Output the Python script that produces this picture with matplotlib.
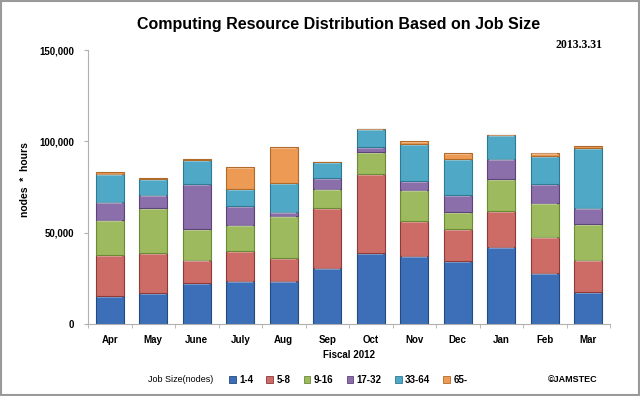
import matplotlib
matplotlib.use("Agg")
import matplotlib.pyplot as plt
import numpy as np
from matplotlib.patches import Patch, Rectangle

months = ["Apr", "May", "June", "July", "Aug", "Sep", "Oct", "Nov", "Dec", "Jan", "Feb", "Mar"]
series_names = ["1-4", "5-8", "9-16", "17-32", "33-64", "65-"]
s_1_4   = [15100, 17000, 22400, 23700, 23700, 30800, 38700, 37400, 34300, 42300, 28100, 17300]
s_5_8   = [22800, 21700, 12800, 16300, 12400, 32700, 43200, 18800, 17500, 19400, 19700, 17900]
s_9_16  = [19200, 24600, 16800, 14400, 23200, 10600, 12300, 17300,  9300, 17700, 18600, 19300]
s_17_32 = [ 9900,  7500, 24700, 10000,  2200,  5600,  2500,  4600,  9300, 11100, 10300,  9200]
s_33_64 = [15300,  8600, 12900,  9300, 15700,  8800, 10300, 20500, 19700, 13200, 15100, 32500]
s_65    = [ 1100,   400,   700, 12300, 19700,   400,     0,  1600,  3500,     0,  2000,  1100]

series = [s_1_4, s_5_8, s_9_16, s_17_32, s_33_64, s_65]
colors = ["#3c6fb8", "#cd6b67", "#9dba5f", "#8a6fab", "#4fa9c6", "#ec9a54"]
edges = ["#244a80", "#8c3b38", "#6a8a35", "#5c4478", "#2e7a93", "#b06a2a"]

plt.rcParams['font.family'] = ['Liberation Sans', 'DejaVu Sans']

fig = plt.figure(figsize=(6.4, 3.96), dpi=100)
ax = fig.add_axes([88/640, 1 - 324/396, (610 - 88)/640, (324 - 50)/396])

x = np.arange(len(months))
bottom = np.zeros(len(months))
for vals, c, ec in zip(series, colors, edges):
    v = np.array(vals, dtype=float)
    ax.bar(x, v, width=0.64, bottom=bottom, color=c, edgecolor=ec, linewidth=0.8, zorder=2)
    # light bevel highlight at top of each segment
    ax.bar(x, np.where(v > 1500, 700, 0), width=0.58, bottom=bottom + v - 1100,
           color="white", alpha=0.3, linewidth=0, zorder=3)
    bottom += v

ax.set_xlim(-0.5, len(months) - 0.5)
ax.set_ylim(0, 150000)
ax.set_yticks([0, 50000, 100000, 150000])
ax.set_yticklabels(["0", "50,000", "100,000", "150,000"], fontsize=7, fontweight="bold")
ax.set_xticks(x)
ax.set_xticklabels(months, fontsize=7, fontweight="bold")
ax.set_xticks(np.arange(-0.5, len(months), 1), minor=True)
ax.tick_params(axis="x", which="major", length=0, pad=8)
ax.tick_params(axis="x", which="minor", length=3, color="#b0b0b0", direction="out")
ax.tick_params(axis="y", length=3, color="#b0b0b0", pad=7)
for s in ["top", "right"]:
    ax.spines[s].set_visible(False)
ax.spines["left"].set_color("#b0b0b0")
ax.spines["bottom"].set_color("#b0b0b0")

ax.set_xlabel("Fiscal 2012", fontsize=7, fontweight="bold")
ax.xaxis.set_label_coords(0.5, -0.095)
fig.text(25/640, 1 - 180/396, "nodes  *  hours", rotation=90, fontsize=7.5,
         fontweight="bold", ha="center", va="center")

fig.text(339/640, 1 - 25/396, "Computing Resource Distribution Based on Job Size",
         fontsize=11.5, fontweight="bold", ha="center", va="center")
fig.text(602/640, 1 - 45/396, "2013.3.31", fontsize=8.5, fontweight="bold",
         family=["Liberation Serif", "DejaVu Serif"], ha="right", va="center")

fig.text(148/640, 1 - 380/396, "Job Size(nodes)", fontsize=6.5, ha="left", va="center")
handles = [Patch(facecolor=c, edgecolor=ec, linewidth=0.6) for c, ec in zip(colors, edges)]
leg = fig.legend(handles, series_names, loc="center left", bbox_to_anchor=(220/640, 1 - 380/396),
                 ncol=6, frameon=False, handlelength=0.7, handleheight=0.7, handletextpad=0.35,
                 columnspacing=1.35, prop={"size": 7, "weight": "bold"})
fig.text(597/640, 1 - 380/396, "©JAMSTEC", fontsize=6.5, fontweight="bold", ha="right", va="center")

fig.patches.append(Rectangle((0.001, 0.002), 0.997, 0.995, transform=fig.transFigure,
                             fill=False, edgecolor="#9a9a9a", linewidth=1.5))

fig.savefig("out.png", dpi=100)
